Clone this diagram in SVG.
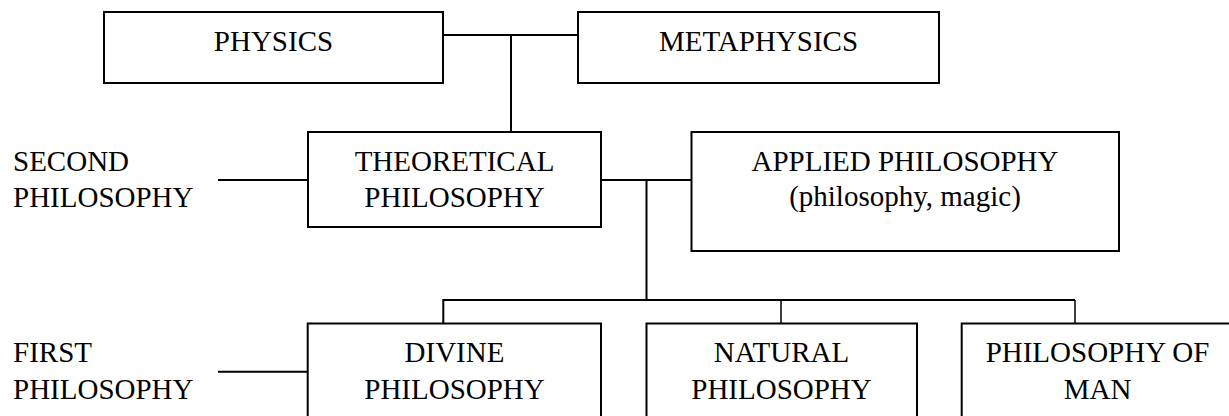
<svg xmlns="http://www.w3.org/2000/svg" width="1229" height="416" viewBox="0 0 1229 416">
<style>
.box{fill:#fff;stroke:#000;stroke-width:2}
.t{font-family:"Liberation Serif","Times New Roman",serif;font-size:29px;fill:#000;text-anchor:middle}
.l{font-family:"Liberation Serif","Times New Roman",serif;font-size:29px;fill:#000}
.c{fill:none;stroke:#000;stroke-width:2}
.thin{fill:none;stroke:#000;stroke-width:1.5}
</style>
<rect width="1229" height="416" fill="#fff"/>
<g id="connectors">
<path class="c" d="M443 35H578M511 35V132"/>
<path class="c" d="M601 180H691M646.5 180V300"/>
<path class="c" d="M218 180H308"/>
<path class="c" d="M218 371.7H308"/>
<path class="c" d="M443.3 324V300H1075"/>
<path class="thin" d="M781 300V324M1075 300V324"/>
</g>
<g id="physics">
<rect class="box" x="104" y="12" width="339" height="71"/>
<text class="t" x="273.5" y="50.7">PHYSICS</text>
</g>
<g id="metaphysics">
<rect class="box" x="578" y="12" width="361" height="71"/>
<text class="t" x="758.5" y="50.7">METAPHYSICS</text>
</g>
<g id="second-philosophy">
<text class="l" x="13" y="170.7">SECOND</text>
<text class="l" x="13" y="206.7">PHILOSOPHY</text>
</g>
<g id="theoretical">
<rect class="box" x="308" y="132" width="293" height="95"/>
<text class="t" x="454.5" y="170.7">THEORETICAL</text>
<text class="t" x="454.5" y="206.7">PHILOSOPHY</text>
</g>
<g id="applied">
<rect class="box" x="691.5" y="132" width="427.5" height="119"/>
<text class="t" x="905" y="170.5">APPLIED PHILOSOPHY</text>
<text class="t" x="905" y="205.5">(philosophy, magic)</text>
</g>
<g id="first-philosophy">
<text class="l" x="13" y="361.7">FIRST</text>
<text class="l" x="13" y="398.5">PHILOSOPHY</text>
</g>
<g id="divine">
<rect class="box" x="307.7" y="323.5" width="293.3" height="100"/>
<text class="t" x="454.5" y="361.7">DIVINE</text>
<text class="t" x="454.5" y="398.5">PHILOSOPHY</text>
</g>
<g id="natural">
<rect class="box" x="646.5" y="323.5" width="270.5" height="100"/>
<text class="t" x="781.5" y="361.7">NATURAL</text>
<text class="t" x="781.5" y="398.5">PHILOSOPHY</text>
</g>
<g id="man">
<rect class="box" x="961.7" y="323.5" width="275" height="100"/>
<text class="t" x="1097.5" y="361.7">PHILOSOPHY OF</text>
<text class="t" x="1097.5" y="398.5">MAN</text>
</g>
</svg>
